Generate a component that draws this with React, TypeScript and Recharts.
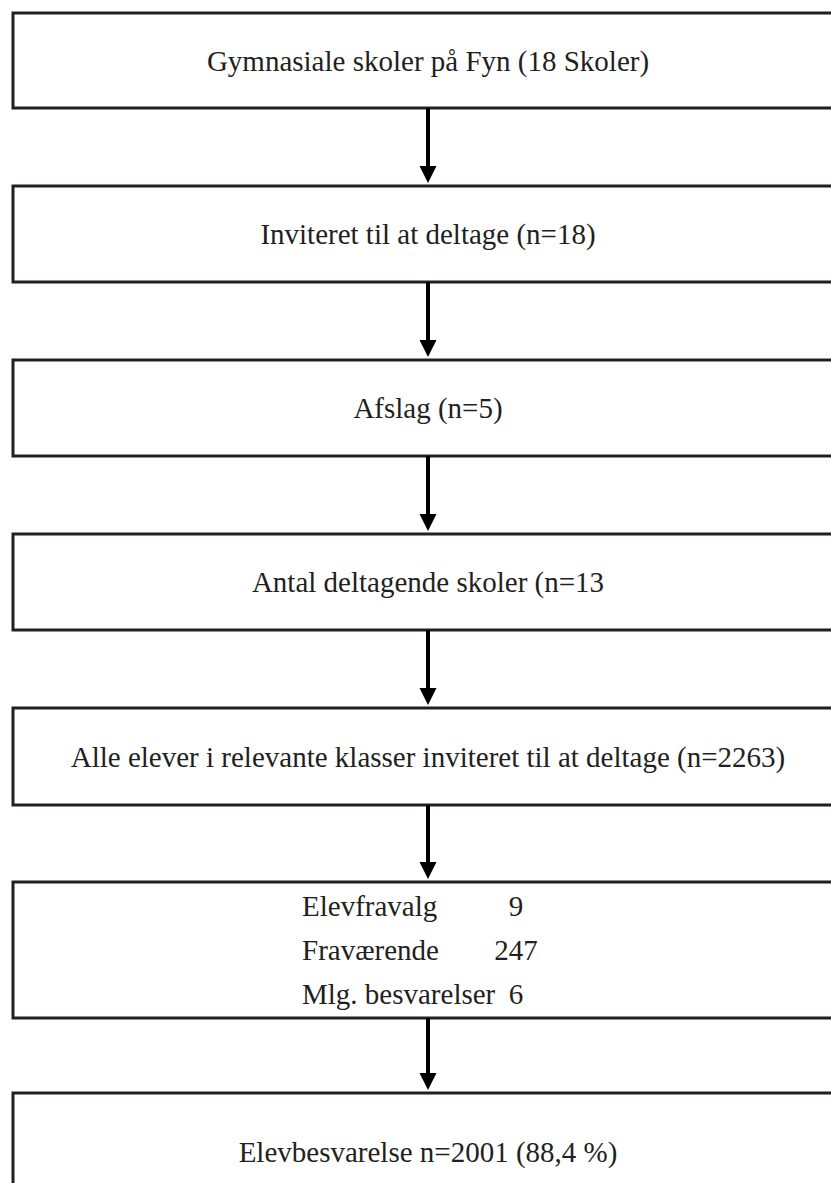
import React from 'react';
import { ComposedChart, XAxis, YAxis, ReferenceArea, ReferenceLine, Scatter } from 'recharts';

const W = 831;
const H = 1183;
const MID_X = 428;
const INK = '#231f20';
const FONT = '"Liberation Serif", "Times New Roman", serif';

// flow steps, top to bottom (page units)
const boxTops = [13, 186, 360, 534, 708, 882, 1093];
const boxBottoms = [108, 282, 456, 630, 805, 1018, 1211];
const boxLabels = [
  'Gymnasiale skoler på Fyn (18 Skoler)',
  'Inviteret til at deltage (n=18)',
  'Afslag (n=5)',
  'Antal deltagende skoler (n=13',
  'Alle elever i relevante klasser inviteret til at deltage (n=2263)',
  '',
  'Elevbesvarelse n=2001 (88,4 %)',
];

// exclusions listed in box 6
const dropoutLabels = ['Elevfravalg', 'Fraværende', 'Mlg. besvarelser'];
const dropoutCounts = [9, 247, 6];

const LABEL_X = 302;
const COUNT_X = 516;
const LINE_GAP = 44;

type TextPoint = { x: number; y: number; text: string; anchor: 'start' | 'middle' };

const mid = (i: number) => (boxTops[i] + boxBottoms[i]) / 2;

const textPoints: TextPoint[] = [];
boxLabels.forEach((t, i) => {
  if (t) textPoints.push({ x: MID_X, y: mid(i), text: t, anchor: 'middle' });
});
dropoutLabels.forEach((t, i) => {
  const y = mid(5) + (i - 1) * LINE_GAP;
  textPoints.push({ x: LABEL_X, y, text: t, anchor: 'start' });
  textPoints.push({ x: COUNT_X, y, text: String(dropoutCounts[i]), anchor: 'middle' });
});

// arrow tips sit just above the next box
const arrowTips = boxTops.slice(1).map((t) => ({ x: MID_X, y: t - 3 }));

const TextShape = (props: any) => {
  const { cx, cy, payload } = props;
  return (
    <text
      x={cx}
      y={cy + 10}
      textAnchor={payload.anchor}
      fontSize={29}
      fontFamily={FONT}
      fill={INK}
    >
      {payload.text}
    </text>
  );
};

const ArrowHead = (props: any) => {
  const { cx, cy } = props;
  return <path d={`M${cx - 8.5},${cy - 17} L${cx + 8.5},${cy - 17} L${cx},${cy} Z`} fill="#000" />;
};

export default function App() {
  return (
    <div style={{ position: 'fixed', left: 0, top: 0, width: W, height: H, overflow: 'hidden', background: '#fff' }}>
      <ComposedChart width={W} height={H} margin={{ top: 0, right: 0, bottom: 0, left: 0 }}>
        <XAxis type="number" dataKey="x" domain={[0, W]} hide />
        <YAxis type="number" dataKey="y" domain={[0, H]} reversed hide />
        {boxTops.map((t, i) => (
          <ReferenceArea
            key={`box-${i}`}
            x1={13}
            x2={850}
            y1={t}
            y2={boxBottoms[i]}
            stroke={INK}
            strokeWidth={3}
            fill="none"
            fillOpacity={0}
            ifOverflow="visible"
          />
        ))}
        {arrowTips.map((a, i) => (
          <ReferenceLine
            key={`shaft-${i}`}
            segment={[
              { x: MID_X, y: boxBottoms[i] },
              { x: MID_X, y: a.y - 14 },
            ]}
            stroke="#000"
            strokeWidth={4}
            ifOverflow="visible"
          />
        ))}
        <Scatter data={arrowTips} dataKey="y" shape={ArrowHead} isAnimationActive={false} />
        <Scatter data={textPoints} dataKey="y" shape={TextShape} isAnimationActive={false} />
      </ComposedChart>
    </div>
  );
}
